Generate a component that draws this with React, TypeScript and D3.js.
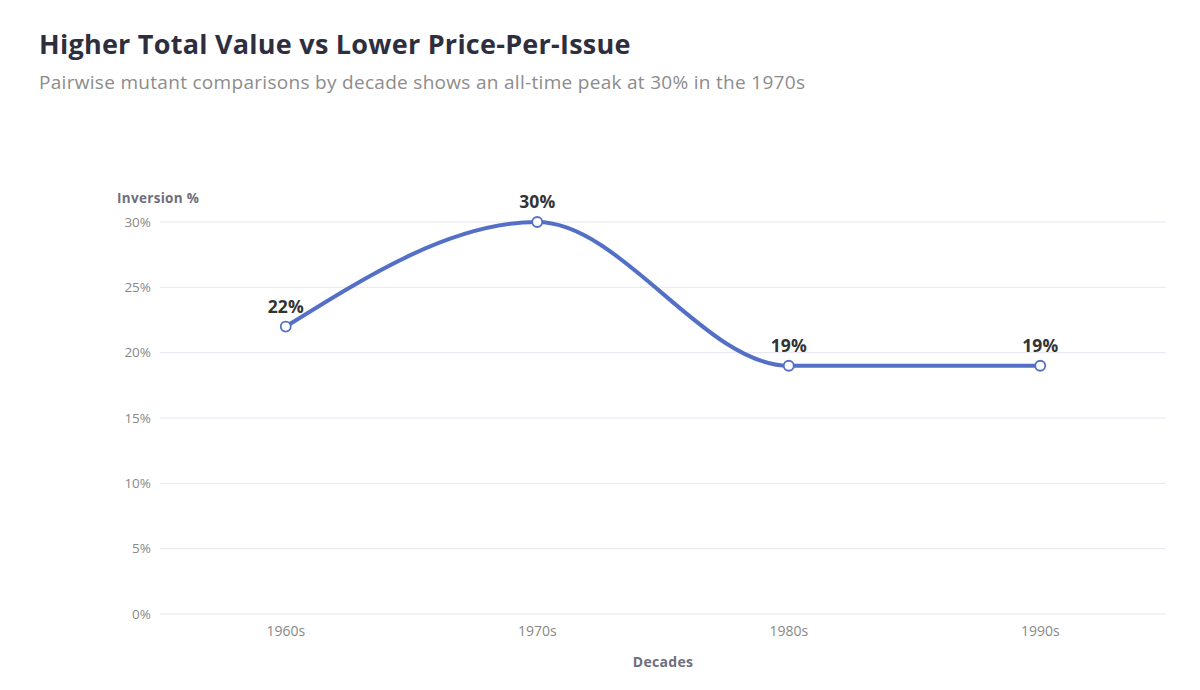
import React from 'react';
import * as d3 from 'd3';

const decades = ['1960s', '1970s', '1980s', '1990s'];
const inversionPct = [22, 30, 19, 19];
const yTicks = [0, 5, 10, 15, 20, 25, 30];

const W = 1200;
const H = 690;
const FONT = '"Open Sans", "Noto Sans", sans-serif';
const BLUE = '#5470c6';

const App: React.FC = () => {
  const x = d3.scalePoint<string>().domain(decades).range([160, 1166]).padding(0.5);
  const y = d3.scaleLinear().domain([0, 30]).range([614, 222]);

  const line = d3
    .line<number>()
    .x((_, i) => x(decades[i]) as number)
    .y(d => y(d))
    .curve(d3.curveMonotoneX);

  return (
    <svg
      width={W}
      height={H}
      style={{ position: 'absolute', left: 0, top: 0, background: '#fff' }}
      fontFamily={FONT}
    >
      <text x={39} y={54} fontSize={27} fontWeight={700} fill="#2e2e3e" letterSpacing={0.25}>
        Higher Total Value vs Lower Price-Per-Issue
      </text>
      <text x={39} y={89} fontSize={19} fill="#8c8c8c" letterSpacing={0.3}>
        Pairwise mutant comparisons by decade shows an all-time peak at 30% in the 1970s
      </text>

      {/* grid + y ticks */}
      {yTicks.map(t => (
        <g key={t}>
          <line x1={160} x2={1166} y1={y(t)} y2={y(t)} stroke="#e6e7f2" strokeWidth={1} />
          <text
            x={151}
            y={y(t)}
            dy="0.35em"
            textAnchor="end"
            fontSize={13.5}
            fill="#888"
          >
            {t}%
          </text>
        </g>
      ))}
      <text x={117} y={203} fontSize={13.5} fontWeight={700} fill="#6e6e7c" letterSpacing={0.3}>
        Inversion %
      </text>

      {/* x ticks */}
      {decades.map(d => (
        <text
          key={d}
          x={x(d)}
          y={631}
          dy="0.35em"
          textAnchor="middle"
          fontSize={14}
          fill="#888"
        >
          {d}
        </text>
      ))}
      <text x={663} y={667} textAnchor="middle" fontSize={14} fontWeight={700} fill="#6e6e7c" letterSpacing={0.3}>
        Decades
      </text>

      <path d={line(inversionPct) || ''} fill="none" stroke={BLUE} strokeWidth={4} />

      {inversionPct.map((v, i) => (
        <g key={i}>
          <circle
            cx={x(decades[i])}
            cy={y(v)}
            r={5}
            fill="#fff"
            stroke={BLUE}
            strokeWidth={1.8}
          />
          <text
            x={x(decades[i])}
            y={y(v) - 14}
            textAnchor="middle"
            fontSize={17.5}
            fontWeight={700}
            fill="#333"
          >
            {v}%
          </text>
        </g>
      ))}
    </svg>
  );
};

export default App;
